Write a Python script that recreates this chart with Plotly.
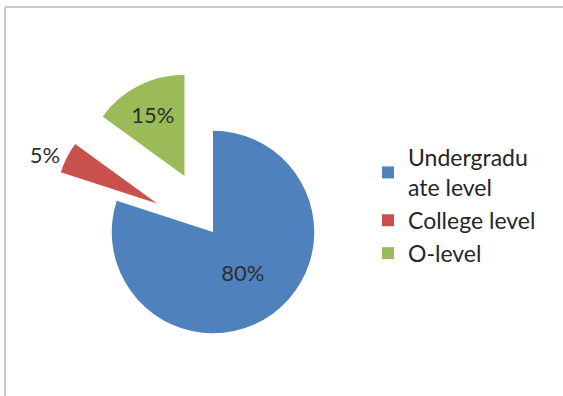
import plotly.graph_objects as go

labels = ["Undergradu<br>ate level", "College level", "O-level"]
values = [80, 5, 15]
colors = ["#4F81BD", "#C8504D", "#9BBB59"]
pulls = [0, 0.62, 0.62]
text_pos = ["inside", "outside", "inside"]

W, H = 563, 396
cx, cy = 213, 232
half = H - cy  # 164

fig = go.Figure(go.Pie(
    labels=labels,
    values=values,
    marker=dict(colors=colors, line=dict(width=0)),
    pull=pulls,
    sort=False,
    direction="clockwise",
    rotation=0,
    textinfo="percent",
    textposition=text_pos,
    insidetextorientation="horizontal",
    textfont=dict(family="Lato", size=22, color="#2E2E2E"),
    domain=dict(x=[(cx - half) / W, (cx + half) / W],
                y=[0, 2 * half / H]),
    hoverinfo="label+percent",
))

fig.update_layout(
    width=W, height=H,
    margin=dict(l=0, r=0, t=0, b=0, autoexpand=False),
    paper_bgcolor="white",
    showlegend=True,
    legend=dict(x=368 / W, y=1 - 136 / H, xanchor="left", yanchor="top",
                font=dict(family="Lato", size=23, color="#262626"),
                tracegroupgap=0, itemwidth=30),
    shapes=[dict(type="line", xref="paper", yref="paper",
                 x0=5 / W, x1=5 / W, y0=0, y1=1 - 7 / H,
                 line=dict(color="#C8C8C8", width=2)),
            dict(type="line", xref="paper", yref="paper",
                 x0=5 / W, x1=1, y0=1 - 7 / H, y1=1 - 7 / H,
                 line=dict(color="#C8C8C8", width=2))],
)

fig.write_html("out.html", config={"displayModeBar": False},
               post_script="document.body.style.margin='0';document.body.style.overflow='hidden';")
